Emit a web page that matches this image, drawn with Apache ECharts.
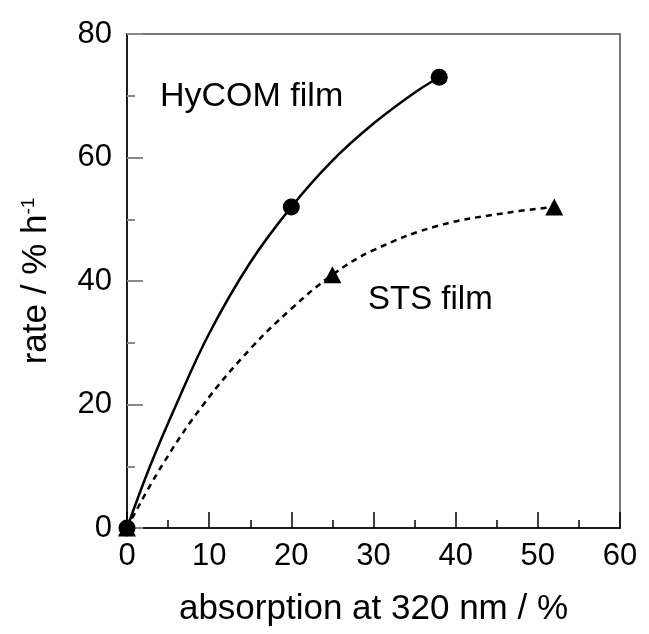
<!DOCTYPE html>
<html>
<head>
<meta charset="UTF-8">
<title>rate vs absorption</title>
<script src="https://cdn.jsdelivr.net/npm/echarts@6/dist/echarts.min.js"></script>
<style>
    html, body { margin: 0; padding: 0; background: #fff; }
    #main { width: 649px; height: 634px; }
</style>
</head>
<body>
<div id="main"></div>
<script>
    // measured points
    const hycomX = [0, 20, 38];
    const hycomY = [0, 52, 73];
    const stsX = [0, 25, 52];
    const stsY = [0, 41, 52];

    // fitted curves
    const hycomCurveX = [0, 2.8, 6, 10, 15, 20, 25, 30, 35, 38];
    const hycomCurveY = [0, 10, 20, 31.5, 43, 52, 59.5, 65.5, 70.5, 73];
    const stsCurveX = [0, 4.2, 9.3, 15, 20, 25, 30, 38, 46, 52];
    const stsCurveY = [0, 10, 20, 29, 35.5, 41, 45, 49, 51, 52];

    const xTicks = [0, 10, 20, 30, 40, 50, 60];
    const yTicks = [0, 20, 40, 60, 80];

    const font = '"Liberation Sans", Arial, Helvetica, sans-serif';
    const zip = (xs, ys) => xs.map((x, i) => [x, ys[i]]);

    var chart = echarts.init(document.getElementById('main'));

    var option = {
        backgroundColor: '#fff',
        animation: false,
        textStyle: { fontFamily: font, color: '#000' },
        grid: {
            left: 127, top: 34, right: 29, bottom: 106,
            show: true,
            borderColor: '#777',
            borderWidth: 2,
            backgroundColor: 'transparent'
        },
        xAxis: {
            type: 'value',
            min: xTicks[0],
            max: xTicks[xTicks.length - 1],
            interval: xTicks[1] - xTicks[0],
            name: 'absorption at 320 nm / %',
            nameLocation: 'middle',
            nameGap: 64,
            nameTextStyle: { fontSize: 35, color: '#000', fontFamily: font },
            axisLine: { show: true, onZero: false, lineStyle: { color: '#000', width: 1.5 } },
            axisTick: { show: true, inside: true, length: 16, lineStyle: { color: '#000', width: 1.5 } },
            minorTick: { show: true, splitNumber: 2, length: 8, lineStyle: { color: '#000', width: 1.5 } },
            axisLabel: { fontSize: 31, color: '#000', margin: 13, fontFamily: font },
            splitLine: { show: false }
        },
        yAxis: {
            type: 'value',
            min: yTicks[0],
            max: yTicks[yTicks.length - 1],
            interval: yTicks[1] - yTicks[0],
            name: 'rate / % h{sup|-1}',
            nameLocation: 'middle',
            nameGap: 73,
            nameTextStyle: {
                fontSize: 35, color: '#000', fontFamily: font,
                rich: { sup: { fontSize: 19, verticalAlign: 'top', color: '#000', fontFamily: font } }
            },
            axisLine: { show: true, onZero: false, lineStyle: { color: '#000', width: 1.5 } },
            axisTick: { show: true, inside: true, length: 16, lineStyle: { color: '#888', width: 2 } },
            minorTick: { show: true, splitNumber: 2, length: 8, lineStyle: { color: '#888', width: 2 } },
            axisLabel: { fontSize: 31, color: '#000', margin: 15, fontFamily: font },
            splitLine: { show: false }
        },
        graphic: [
            {
                type: 'text', x: 160, y: 97,
                style: { text: 'HyCOM film', fontSize: 34, fontFamily: font, fill: '#000', verticalAlign: 'middle' }
            },
            {
                type: 'text', x: 368, y: 300,
                style: { text: 'STS film', fontSize: 33, fontFamily: font, fill: '#000', verticalAlign: 'middle' }
            }
        ],
        series: [
            {
                name: 'HyCOM curve',
                type: 'line',
                data: zip(hycomCurveX, hycomCurveY),
                smooth: 0.4,
                showSymbol: false,
                lineStyle: { color: '#000', width: 2.5 },
                z: 3
            },
            {
                name: 'STS curve',
                type: 'line',
                data: zip(stsCurveX, stsCurveY),
                smooth: 0.4,
                showSymbol: false,
                lineStyle: { color: '#000', width: 2.5, type: [6, 5] },
                z: 3
            },
            {
                name: 'HyCOM film',
                type: 'scatter',
                data: zip(hycomX, hycomY),
                symbol: 'circle',
                symbolSize: 17,
                itemStyle: { color: '#000', opacity: 1 },
                clip: false,
                z: 5
            },
            {
                name: 'STS film',
                type: 'scatter',
                data: zip(stsX, stsY),
                symbol: 'triangle',
                symbolSize: [18, 17],
                itemStyle: { color: '#000', opacity: 1 },
                clip: false,
                z: 5
            }
        ]
    };

    chart.setOption(option);
</script>
</body>
</html>
